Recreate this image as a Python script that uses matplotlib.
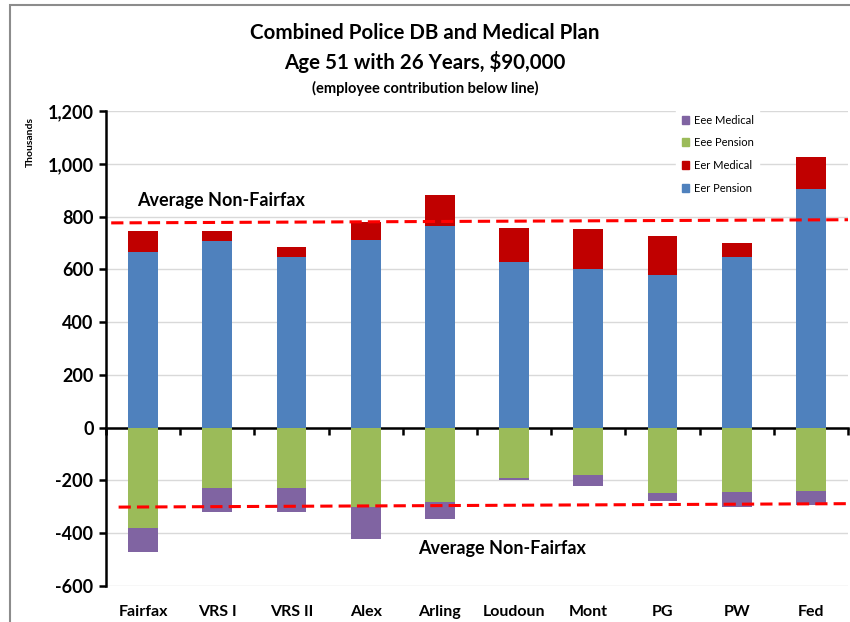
import matplotlib
matplotlib.use('Agg')
import matplotlib.pyplot as plt
from matplotlib.patches import Rectangle, Patch
from matplotlib.ticker import FuncFormatter, FixedLocator
import numpy as np

plt.rcParams['font.family'] = ['Lato', 'DejaVu Sans']

plans = ['Fairfax', 'VRS I', 'VRS II', 'Alex', 'Arling', 'Loudoun', 'Mont', 'PG', 'PW', 'Fed']
eer_pension = [664, 706, 645, 713, 764, 626, 603, 577, 645, 903]
eer_medical = [80, 38, 39, 66, 116, 129, 148, 148, 53, 122]
eee_pension = [-379, -227, -227, -302, -283, -189, -181, -246, -243, -239]
eee_medical = [-93, -94, -94, -118, -64, -8, -41, -31, -56, -53]

# average of non-Fairfax plans (line drawn slightly tilted in the original)
avg_pos = [776, 788]
avg_neg = [-301, -288]

c_eer_pen = '#4F81BD'
c_eer_med = '#C00000'
c_eee_pen = '#9BBB59'
c_eee_med = '#8064A2'

fig = plt.figure(figsize=(8.5, 6.22), dpi=100)
ax = fig.add_axes([106 / 850, 1 - 586 / 622, 742 / 850, 475 / 622])

x = np.arange(len(plans))
w = 0.40
ax.bar(x, eer_pension, w, color=c_eer_pen, zorder=3)
ax.bar(x, eer_medical, w, bottom=eer_pension, color=c_eer_med, zorder=3)
ax.bar(x, eee_pension, w, color=c_eee_pen, zorder=3)
ax.bar(x, eee_medical, w, bottom=eee_pension, color=c_eee_med, zorder=3)

ax.plot([-0.43, 9.5], avg_pos, color='#FF0000', lw=2.2, ls=(0, (4, 2)), zorder=4)
ax.plot([-0.33, 9.5], avg_neg, color='#FF0000', lw=2.2, ls=(0, (4, 2)), zorder=4)
ax.text(-0.08, 862, 'Average Non-Fairfax', fontsize=13, fontweight='bold', va='center', ha='left')
ax.text(3.71, -459, 'Average Non-Fairfax', fontsize=13, fontweight='bold', va='center', ha='left')

ax.set_xlim(-0.5, 9.5)
ax.set_ylim(-600, 1200)
ax.set_yticks(range(-600, 1201, 200))
ax.yaxis.set_major_formatter(FuncFormatter(lambda v, p: f'{int(v):,}'))
ax.tick_params(axis='y', length=5, width=1.8, labelsize=13, pad=4)
for t in ax.get_yticklabels():
    t.set_fontweight('bold')
ax.grid(axis='y', color='#D9D9D9', lw=1, zorder=0)

# x axis sits at zero, tick marks between categories
ax.spines['bottom'].set_position(('data', 0))
ax.spines['bottom'].set_linewidth(1.8)
ax.spines['left'].set_linewidth(1.8)
ax.spines['top'].set_visible(False)
ax.spines['right'].set_visible(False)
ax.xaxis.set_major_locator(FixedLocator(np.arange(-0.5, 10, 1)))
ax.tick_params(axis='x', length=5, width=1.8, labelbottom=False)
for i, name in enumerate(plans):
    ax.text(i, -0.055, name, transform=ax.get_xaxis_transform(), ha='center', va='center',
            fontsize=11.5, fontweight='bold')

handles = [Patch(color=c_eee_med), Patch(color=c_eee_pen), Patch(color=c_eer_med), Patch(color=c_eer_pen)]
labels = ['Eee Medical', 'Eee Pension', 'Eer Medical', 'Eer Pension']
leg = ax.legend(handles, labels, loc='upper left', bbox_to_anchor=(676 / 850, 1 - 109 / 622),
                bbox_transform=fig.transFigure, fontsize=8, frameon=True, fancybox=False,
                handlelength=0.7, handleheight=0.7, handletextpad=0.4, labelspacing=1.05,
                borderpad=0.5, borderaxespad=0)
leg.get_frame().set_edgecolor('white')
leg.get_frame().set_facecolor('white')
leg.get_frame().set_alpha(1)
leg.set_zorder(5)

fig.text(0.5, 1 - 33 / 622, 'Combined Police DB and Medical Plan', ha='center', va='center',
         fontsize=14.8, fontweight='bold')
fig.text(0.5, 1 - 62 / 622, 'Age 51 with 26 Years, $90,000', ha='center', va='center',
         fontsize=14.8, fontweight='bold')
fig.text(0.5, 1 - 88 / 622, '(employee contribution below line)', ha='center', va='center',
         fontsize=10.5, fontweight='bold')
fig.text(30 / 850, 1 - 142 / 622, 'Thousands', rotation=90, ha='center', va='center',
         fontsize=7.5, fontweight='bold')

fig.patches.append(Rectangle((10 / 850, -0.1), 1.1, 1.1 - 5 / 622, transform=fig.transFigure,
                             fill=False, edgecolor='#8C8C8C', lw=1.5))

fig.savefig('out.png', dpi=100)
